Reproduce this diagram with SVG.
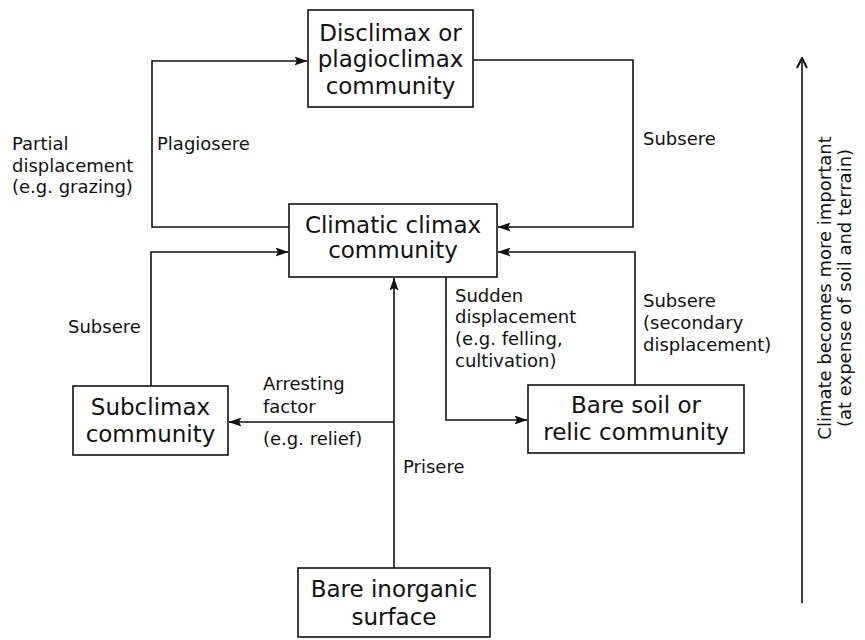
<svg xmlns="http://www.w3.org/2000/svg" width="865" height="640" viewBox="0 0 865 640">
  <style>
    .box { fill: #fff; stroke: #111; stroke-width: 1.6; }
    .title { font-family: "DejaVu Sans", "Liberation Sans", sans-serif; font-size: 23px; fill: #111; text-anchor: middle; }
    .lbl { font-family: "DejaVu Sans", "Liberation Sans", sans-serif; font-size: 18px; fill: #111; }
    .edge { fill: none; stroke: #111; stroke-width: 1.6; }
  </style>
  <defs>
    <marker id="arrow" viewBox="0 0 13 9" refX="12.5" refY="4.5" markerWidth="13" markerHeight="9" markerUnits="userSpaceOnUse" orient="auto">
      <path d="M0,0 L13,4.5 L0,9 L2.5,4.5 Z" fill="#111"/>
    </marker>
    <marker id="chevron" viewBox="0 0 12 12" refX="11" refY="6" markerWidth="12" markerHeight="12" markerUnits="userSpaceOnUse" orient="auto">
      <path d="M1,1 L11,6 L1,11" fill="none" stroke="#111" stroke-width="2"/>
    </marker>
  </defs>

  <!-- connectors -->
  <g id="connectors">
    <path class="edge" d="M289,227 H152 V61 H307" marker-end="url(#arrow)"/>
    <path class="edge" d="M473,60 H633 V227 H498" marker-end="url(#arrow)"/>
    <path class="edge" d="M151,386 V252 H288" marker-end="url(#arrow)"/>
    <path class="edge" d="M635,385 V252 H498" marker-end="url(#arrow)"/>
    <path class="edge" d="M394,568 V278" marker-end="url(#arrow)"/>
    <path class="edge" d="M446,277 V420 H527" marker-end="url(#arrow)"/>
    <path class="edge" d="M394,422 H229" marker-end="url(#arrow)"/>
    <path class="edge" d="M802,603 V58" marker-end="url(#chevron)"/>
  </g>

  <!-- connector labels -->
  <g id="labels">
    <text class="lbl" x="12" y="150">Partial</text>
    <text class="lbl" x="12" y="172">displacement</text>
    <text class="lbl" x="12" y="193">(e.g. grazing)</text>
    <text class="lbl" x="157" y="150">Plagiosere</text>
    <text class="lbl" x="643" y="145">Subsere</text>
    <text class="lbl" x="68" y="333">Subsere</text>
    <text class="lbl" x="455" y="302">Sudden</text>
    <text class="lbl" x="455" y="323">displacement</text>
    <text class="lbl" x="455" y="345">(e.g. felling,</text>
    <text class="lbl" x="455" y="367">cultivation)</text>
    <text class="lbl" x="643" y="307">Subsere</text>
    <text class="lbl" x="643" y="329">(secondary</text>
    <text class="lbl" x="643" y="351">displacement)</text>
    <text class="lbl" x="263" y="390">Arresting</text>
    <text class="lbl" x="263" y="413">factor</text>
    <text class="lbl" x="263" y="445">(e.g. relief)</text>
    <text class="lbl" x="403" y="473">Prisere</text>
    <g transform="translate(831,288) rotate(-90)">
      <text class="lbl" x="0" y="0" text-anchor="middle" font-size="16">Climate becomes more important</text>
      <text class="lbl" x="0" y="20" text-anchor="middle" font-size="16">(at expense of soil and terrain)</text>
    </g>
  </g>

  <!-- nodes -->
  <g id="disclimax">
    <rect class="box" x="308" y="10" width="165" height="97"/>
    <text class="title" x="390.5" y="41">Disclimax or</text>
    <text class="title" x="390.5" y="67">plagioclimax</text>
    <text class="title" x="390.5" y="94">community</text>
  </g>
  <g id="climatic-climax">
    <rect class="box" x="289" y="204" width="208" height="73"/>
    <text class="title" x="393" y="233">Climatic climax</text>
    <text class="title" x="393" y="258">community</text>
  </g>
  <g id="subclimax">
    <rect class="box" x="73" y="386" width="155" height="69"/>
    <text class="title" x="150.5" y="415">Subclimax</text>
    <text class="title" x="150.5" y="442">community</text>
  </g>
  <g id="bare-soil">
    <rect class="box" x="528" y="385" width="216" height="68"/>
    <text class="title" x="636" y="413">Bare soil or</text>
    <text class="title" x="636" y="440">relic community</text>
  </g>
  <g id="bare-inorganic">
    <rect class="box" x="298" y="568" width="192" height="69"/>
    <text class="title" x="394" y="597">Bare inorganic</text>
    <text class="title" x="394" y="625">surface</text>
  </g>
</svg>
